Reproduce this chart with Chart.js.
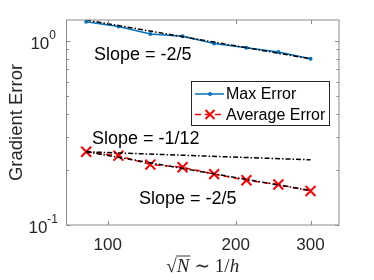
<!DOCTYPE html>
<html>
<head>
<meta charset="utf-8">
<script src="https://cdn.jsdelivr.net/npm/chart.js@4"></script>
<style>
  html, body { margin: 0; padding: 0; background: #fff; }
</style>
</head>
<body>
<canvas id="errChart" width="374" height="280"></canvas>
<script>
// grid sizes sqrt(N)
const nValues = [89, 106, 126, 150, 178, 212, 252, 300];
// errors
const maxError = [1.27, 1.20, 1.09, 1.06, 0.97, 0.92, 0.87, 0.80];
const avgError = [0.250, 0.238, 0.213, 0.206, 0.189, 0.175, 0.166, 0.153];
// reference slope lines (end points)
const slopeX = [89, 300];
const slopeMax = [1.30, 0.80];
const slopeFlat = [0.25, 0.226];
const slopeAvg = [0.25, 0.154];
// tick labels
const xTicks = [100, 200, 300];
const yMajor = [0.1, 1];
const yMinor = [0.2, 0.3, 0.4, 0.5, 0.6, 0.7, 0.8, 0.9];

const FONT = '"Liberation Sans", Arial, sans-serif';
const SERIF = '"Liberation Serif", "DejaVu Serif", serif';
const dashDot = [5, 2, 1.5, 2];

const pts = (xs, ys) => xs.map((x, i) => ({ x: x, y: ys[i] }));

function slopeSet(ys) {
  return {
    data: pts(slopeX, ys),
    borderColor: '#000',
    borderWidth: 1.5,
    borderDash: dashDot,
    pointRadius: 0,
    fill: false
  };
}

function drawPow(ctx, exp, xRight, y) {
  ctx.font = '17px ' + FONT;
  const wBase = ctx.measureText('10').width;
  ctx.font = '12px ' + FONT;
  const wExp = ctx.measureText(exp).width;
  const x0 = xRight - wBase - wExp;
  ctx.textAlign = 'left';
  ctx.textBaseline = 'middle';
  ctx.font = '17px ' + FONT;
  ctx.fillText('10', x0, y + 3);
  ctx.font = '12px ' + FONT;
  ctx.fillText(exp, x0 + wBase, y - 5);
}

const matlabAxes = {
  id: 'matlabAxes',
  afterDatasetsDraw(chart) {
    const ctx = chart.ctx;
    const a = chart.chartArea;
    const xs = chart.scales.x, ys = chart.scales.y;
    ctx.save();

    // box
    ctx.strokeStyle = '#8a8a8a';
    ctx.lineWidth = 1;
    ctx.strokeRect(a.left, a.top, a.right - a.left, a.bottom - a.top);

    // ticks (inside)
    ctx.beginPath();
    xTicks.forEach(v => {
      const px = Math.round(xs.getPixelForValue(v)) + 0.5;
      ctx.moveTo(px, a.bottom); ctx.lineTo(px, a.bottom - 4);
      ctx.moveTo(px, a.top); ctx.lineTo(px, a.top + 4);
    });
    yMajor.forEach(v => {
      const py = Math.round(ys.getPixelForValue(v)) + 0.5;
      ctx.moveTo(a.left, py); ctx.lineTo(a.left + 4, py);
      ctx.moveTo(a.right, py); ctx.lineTo(a.right - 4, py);
    });
    yMinor.forEach(v => {
      const py = Math.round(ys.getPixelForValue(v)) + 0.5;
      ctx.moveTo(a.left, py); ctx.lineTo(a.left + 2.5, py);
      ctx.moveTo(a.right, py); ctx.lineTo(a.right - 2.5, py);
    });
    ctx.stroke();

    // tick labels
    ctx.fillStyle = '#262626';
    ctx.font = '17px ' + FONT;
    ctx.textAlign = 'center';
    ctx.textBaseline = 'middle';
    xTicks.forEach(v => ctx.fillText(String(v), xs.getPixelForValue(v), 245));
    drawPow(ctx, '0', 56, ys.getPixelForValue(1));
    drawPow(ctx, '-1', 58, ys.getPixelForValue(0.1));

    // y title
    ctx.save();
    ctx.translate(17, (a.top + a.bottom) / 2);
    ctx.rotate(-Math.PI / 2);
    ctx.font = '18.5px ' + FONT;
    ctx.textAlign = 'center';
    ctx.textBaseline = 'middle';
    ctx.fillText('Gradient Error', 0, 0);
    ctx.restore();

    // x title: sqrt(N) ~ 1/h
    const base = 272;
    const cx = (a.left + a.right) / 2;
    const parts = [
      { t: '\u221A', f: '19px ' + SERIF },
      { t: 'N', f: 'italic 19px ' + SERIF },
      { t: ' \u223C ', f: '19px ' + SERIF },
      { t: '1/', f: '19px ' + SERIF },
      { t: 'h', f: 'italic 19px ' + SERIF }
    ];
    let total = 0;
    parts.forEach(p => { ctx.font = p.f; p.w = ctx.measureText(p.t).width; total += p.w; });
    let x = cx - total / 2;
    ctx.textAlign = 'left';
    ctx.textBaseline = 'alphabetic';
    parts.forEach((p, i) => {
      ctx.font = p.f;
      ctx.fillText(p.t, x, base);
      if (i === 1) {
        ctx.beginPath();
        ctx.strokeStyle = '#262626';
        ctx.lineWidth = 0.9;
        ctx.moveTo(x - 1, base - 16);
        ctx.lineTo(x + p.w + 1, base - 16);
        ctx.stroke();
      }
      x += p.w;
    });

    // slope annotations
    ctx.fillStyle = '#000';
    ctx.font = '18px ' + FONT;
    ctx.textAlign = 'left';
    ctx.textBaseline = 'alphabetic';
    ctx.fillText('Slope = -2/5', 94, 60);
    ctx.fillText('Slope = -1/12', 92, 144);
    ctx.fillText('Slope = -2/5', 139, 204);

    // legend
    const lx = 191, ly = 81, lw = 138, lh = 44;
    ctx.fillStyle = '#fff';
    ctx.fillRect(lx, ly, lw, lh);
    ctx.strokeStyle = '#262626';
    ctx.lineWidth = 1;
    ctx.strokeRect(lx + 0.5, ly + 0.5, lw, lh);
    const rows = [
      { y: 94, ds: chart.data.datasets[4], label: 'Max Error' },
      { y: 114.5, ds: chart.data.datasets[3], label: 'Average Error' }
    ];
    rows.forEach(r => {
      ctx.beginPath();
      ctx.strokeStyle = r.ds.borderColor;
      ctx.lineWidth = 1.5;
      ctx.setLineDash(r.ds.borderDash || []);
      ctx.moveTo(195, r.y); ctx.lineTo(224, r.y);
      ctx.stroke();
      ctx.setLineDash([]);
      ctx.fillStyle = r.ds.pointBackgroundColor;
      ctx.strokeStyle = r.ds.pointBorderColor;
      ctx.beginPath();
      if (r.ds.pointStyle === 'circle') {
        ctx.arc(210, r.y, r.ds.pointRadius, 0, Math.PI * 2);
        ctx.fill();
      } else {
        const s = 4.5;
        ctx.lineWidth = r.ds.pointBorderWidth;
        ctx.moveTo(210 - s, r.y - s); ctx.lineTo(210 + s, r.y + s);
        ctx.moveTo(210 - s, r.y + s); ctx.lineTo(210 + s, r.y - s);
        ctx.stroke();
      }
      ctx.fillStyle = '#000';
      ctx.font = '16px ' + FONT;
      ctx.textBaseline = 'middle';
      ctx.fillText(r.label, 226, r.y + 1);
    });

    ctx.restore();
  }
};

new Chart(document.getElementById('errChart'), {
  type: 'line',
  data: {
    datasets: [
      slopeSet(slopeMax),
      slopeSet(slopeFlat),
      slopeSet(slopeAvg),
      {
        label: 'Average Error',
        data: pts(nValues, avgError),
        borderColor: '#ff0000',
        borderWidth: 1.5,
        borderDash: [6, 4],
        pointStyle: 'crossRot',
        pointRadius: 7,
        pointBorderWidth: 2,
        pointBorderColor: '#ff0000',
        pointBackgroundColor: '#ff0000',
        fill: false
      },
      {
        label: 'Max Error',
        data: pts(nValues, maxError),
        borderColor: '#0072BD',
        borderWidth: 1.5,
        pointStyle: 'circle',
        pointRadius: 2,
        pointBorderWidth: 0,
        pointBorderColor: '#0072BD',
        pointBackgroundColor: '#0072BD',
        fill: false
      }
    ]
  },
  options: {
    responsive: false,
    animation: false,
    layout: { padding: { left: 0, right: 35, top: 20, bottom: 0 } },
    scales: {
      x: {
        type: 'logarithmic',
        min: 80,
        max: 350,
        grid: { display: false },
        border: { display: false },
        ticks: { display: false },
        afterFit: s => { s.height = 55; }
      },
      y: {
        type: 'logarithmic',
        min: 0.1,
        max: 1.3,
        grid: { display: false },
        border: { display: false },
        ticks: { display: false },
        afterFit: s => { s.width = 66.5; }
      }
    },
    plugins: {
      legend: { display: false },
      tooltip: { enabled: false }
    }
  },
  plugins: [matlabAxes]
});
</script>
</body>
</html>
